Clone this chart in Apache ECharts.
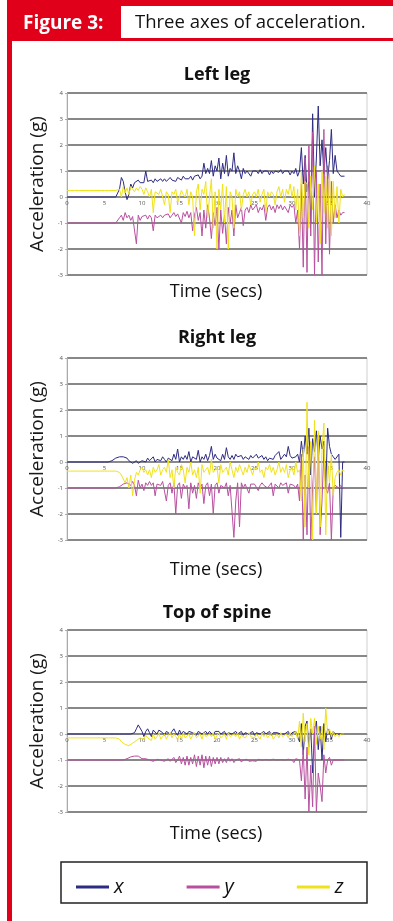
<!DOCTYPE html>
<html>
<head>
<meta charset="utf-8">
<script src="https://cdn.jsdelivr.net/npm/echarts@6/dist/echarts.min.js"></script>
<style>
  html, body { margin: 0; padding: 0; background: #fff; }
  #main { width: 393px; height: 921px; }
</style>
</head>
<body>
<div id="main"></div>
<script>
// time in seconds, one sample every 0.25 s from 0 to 37
var timeSecs = [];
for (var k = 0; k <= 148; k++) timeSecs.push(k / 4);

var chartTitles = ['Left leg', 'Right leg', 'Top of spine'];
var seriesNames = ['x', 'y', 'z'];
var yTicks = [-3, -2, -1, 0, 1, 2, 3, 4];
var xTicks = [0, 5, 10, 15, 20, 25, 30, 35, 40];

// Left leg
var leftX = [
  0,0,0,0, 0,0,0,0, 0,0,0,0, 0,0,0,0, 0,0,0,0,
  0,0,0,0, 0,0,0,0, 0.3,0.75,0.6,0.2, -0.1,0.1,0.5,0.35, 0.55,0.5,0.65,0.55,
  0.6,0.55,1.0,0.6, 0.6,0.65,0.55,0.7, 0.6,0.65,0.7,0.6, 0.7,0.6,0.65,0.75, 0.65,0.7,0.6,0.75,
  0.7,0.65,0.8,0.7, 0.75,0.7,0.8,0.65, 0.8,0.75,0.85,0.7, 0.8,1.3,0.9,1.1, 0.9,1.4,0.8,1.2,
  1.0,1.5,0.7,1.3, 0.9,1.6,0.8,1.1, 1.0,1.7,0.9,1.2, 1.0,0.7,1.1,0.9, 1.0,1.05,0.8,1.0,
  0.95,1.0,0.9,1.05, 0.9,1.0,0.95,1.0, 0.85,1.0,0.9,1.0, 1.0,0.95,1.05,0.9, 1.0,0.95,1.0,0.85,
  1.0,0.9,1.1,0.8, 1.0,1.9,0.5,1.6, 0.2,0.6,-1.0,3.2, 0.0,1.5,3.5,1.2, 2.2,0.9,1.9,0.7,
  1.4,2.6,0.9,1.6, 1.0,0.9,0.8,0.85, 0.8
];
var leftY = [
  -1,-1,-1,-1, -1,-1,-1,-1, -1,-1,-1,-1, -1,-1,-1,-1, -1,-1,-1,-1,
  -1,-1,-1,-1, -1,-1,-1,-1, -0.8,-0.7,-0.9,-0.6, -0.8,-0.7,-0.9,-0.75, -0.8,-1.8,-0.7,-0.9,
  -0.75,-0.8,-0.7,-0.85, -0.7,-0.8,-1.3,-0.7, -0.8,-0.75,-0.7,-0.8, -0.7,-0.75,-0.65,-0.8, -0.7,-0.6,-0.75,-0.65,
  -0.7,-1.0,-0.6,-0.75, -0.55,-0.8,-0.6,-1.3, -0.7,-0.4,-0.9,-0.6, -1.5,-0.5,-1.2,-0.3, -0.8,-1.6,-0.6,-1.1,
  -0.4,-2.0,-0.5,-1.4, -0.7,-1.8,-0.4,-1.0, -0.5,-1.5,-0.3,-0.8, -0.6,-0.4,-1.1,-0.5, -0.4,-0.6,-0.3,-0.5,
  -0.45,-0.3,-0.6,-0.4, -0.5,-0.3,-0.9,-0.4, -0.3,-0.5,-0.35,-0.6, -0.3,-0.45,-0.3,-0.5, -0.35,-0.3,-0.6,-0.3,
  -0.4,-0.3,-1.0,-0.5, -2.0,0.5,-2.7,1.5, -2.9,2.0,-1.5,2.5, -3.0,1.0,-2.5,0.5, -3.0,2.6,-1.8,1.2,
  -2.2,0.6,-1.0,-0.3, -0.8,-0.5,-0.7,-0.6, -0.6
];
var leftZ = [
  0.25,0.25,0.25,0.25, 0.25,0.25,0.25,0.25, 0.25,0.25,0.25,0.25, 0.25,0.25,0.25,0.25, 0.25,0.25,0.25,0.25,
  0.25,0.25,0.25,0.25, 0.25,0.25,0.25,0.25, 0.3,0.0,0.4,0.15, 0.35,0.1,0.4,0.3, 0.2,0.35,0.25,0.4,
  0.3,0.1,0.35,0.2, 0.0,0.3,-0.6,0.2, 0.25,0.1,0.3,0.0, -0.3,0.2,0.1,-0.6, 0.2,0.1,0.3,-0.2,
  0.0,0.25,0.1,0.0, 0.3,-0.3,0.2,0.0, -1.5,0.2,0.5,-0.5, 0.3,0.1,0.6,-0.8, 0.0,0.7,-1.2,0.2,
  -2.0,0.3,-0.5,0.5, -1.0,0.4,-2.0,0.2, 0.0,-1.2,0.3,0.0, 0.2,-0.5,0.1,0.3, 0.0,0.2,-0.3,0.1,
  0.2,0.0,0.3,-0.2, 0.1,0.3,-0.6,0.2, 0.0,0.2,0.1,-0.3, 0.2,0.4,0.0,0.3, -0.2,0.3,0.1,0.5,
  0.0,0.4,-0.5,0.3, -1.5,1.0,-0.8,0.6, 0.5,-1.2,0.8,-0.5, 1.2,-1.0,0.5,-1.8, 1.0,-0.6,0.8,-1.2,
  0.9,-1.5,0.6,-0.8, 0.4,-1.0,0.3,0.0, 0.1
];

// Right leg
var rightX = [
  0,0,0,0, 0,0,0,0, 0,0,0,0, 0,0,0,0, 0,0,0,0,
  0,0,0,0, 0.05,0.1,0.15,0.2, 0.2,0.25,0.2,0.2, 0.15,0.05,0.0,-0.05, 0.0,0.05,-0.05,0.0,
  0.05,0.1,0.0,0.15, 0.05,0.1,0.2,0.0, 0.1,0.15,0.05,0.2, 0.1,0.0,0.15,0.1, 0.05,0.3,0.1,0.5,
  0.0,0.2,0.1,0.25, 0.1,0.4,0.0,0.2, 0.2,0.1,0.45,0.0, 0.2,0.1,0.3,0.05, 0.25,0.6,0.1,0.3,
  0.15,0.2,0.05,0.3, 0.1,0.55,0.2,0.1, 0.25,0.1,0.3,0.2, 0.15,0.25,0.1,0.2, 0.2,0.1,0.25,0.15,
  0.1,0.3,0.15,0.2, 0.25,0.1,0.2,0.05, 0.15,0.2,0.1,0.25, 0.2,0.4,0.1,0.15, 0.3,0.2,0.6,0.25,
  0.15,0.1,0.2,0.3, 0.0,0.8,0.2,1.0, 0.3,1.3,-0.5,0.9, 0.4,1.2,0.1,1.0, 0.5,0.8,-1.0,1.3,
  0.6,0.3,0.2,0.1, 0.1,0.3,-2.9,0.0, 0.0
];
var rightY = [
  -1,-1,-1,-1, -1,-1,-1,-1, -1,-1,-1,-1, -1,-1,-1,-1, -1,-1,-1,-1,
  -1,-1,-1,-1, -1,-1,-1,-1, -0.95,-0.9,-0.85,-0.9, -0.8,-0.85,-0.9,-0.75, -0.9,-1.3,-0.7,-1.0,
  -0.85,-1.1,-0.8,-0.9, -0.75,-0.9,-0.8,-1.3, -0.85,-0.8,-0.9,-0.75, -0.8,-1.5,-0.9,-0.8, -1.2,-0.8,-2.0,-0.9,
  -0.8,-1.4,-0.85,-1.0, -0.9,-1.8,-0.8,-1.2, -0.9,-1.4,-0.8,-1.0, -0.85,-1.6,-0.9,-0.8, -1.3,-0.85,-2.0,-0.9,
  -0.8,-1.2,-0.9,-0.85, -1.0,-0.8,-1.3,-0.9, -0.85,-2.9,-1.5,-0.8, -2.5,-0.8,-1.0,-0.85, -0.8,-1.2,-0.85,-0.9,
  -0.85,-0.8,-1.1,-0.9, -0.8,-0.9,-0.85,-1.0, -0.9,-0.8,-1.3,-0.85, -0.85,-1.0,-0.8,-0.9, -0.9,-0.8,-1.2,-0.85,
  -0.8,-0.9,-1.0,-0.85, -1.5,0.3,-3.0,-0.5, -2.8,0.6,-3.0,-1.0, 0.2,-2.0,1.0,-2.8, -1.5,0.5,-1.0,-1.2,
  -0.8,-3.0,-1.0,-0.9, -0.95,-1.0,-0.9,-1.0, -1.0
];
var rightZ = [
  -0.35,-0.35,-0.35,-0.35, -0.35,-0.35,-0.35,-0.35, -0.35,-0.35,-0.35,-0.35, -0.35,-0.35,-0.35,-0.35, -0.35,-0.35,-0.35,-0.35,
  -0.35,-0.35,-0.35,-0.35, -0.35,-0.35,-0.35,-0.35, -0.4,-0.5,-0.45,-0.8, -0.6,-1.0,-0.5,-1.3, -0.7,-0.4,-0.5,-0.3,
  -0.2,-0.4,-0.3,-0.5, -0.3,-0.6,-0.2,-0.4, -0.3,-0.1,-0.5,-0.3, -0.2,-0.4,0.1,-0.6, -0.3,-1.0,-0.2,-0.4,
  -0.5,-0.1,-0.3,-0.8, -0.2,-0.4,0.0,-0.5, -0.3,-0.6,-0.2,-1.2, -0.1,-0.4,-0.3,-0.2, -0.5,0.1,-0.4,-0.3,
  -0.2,-0.8,-0.1,-0.4, -0.3,-0.2,-0.5,0.0, -0.3,-0.6,-0.2,-0.4, -0.1,-0.3,-0.5,-0.2, -0.4,-0.1,-0.3,-0.5,
  -0.2,-0.3,0.0,-0.4, -0.3,-0.6,-0.2,-0.3, -0.1,-0.4,-0.2,-0.5, -0.3,0.0,-0.4,-0.2, -0.4,-0.1,-0.6,-0.3,
  -0.2,-0.5,0.0,-0.4, -0.3,-1.5,0.5,-2.5, 2.3,-1.0,0.8,-3.0, 1.6,-2.0,1.2,-2.5, 0.5,1.5,-2.8,0.0,
  -0.8,0.3,-1.3,-0.6, -0.4,-0.3,-0.5,-0.3, -0.35
];

// Top of spine
var spineX = [
  0,0,0,0, 0,0,0,0, 0,0,0,0, 0,0,0,0, 0,0,0,0,
  0,0,0,0, 0,0,0,0, 0.0,0.05,0.0,0.05, 0.0,0.05,0.0,0.0, 0.05,0.2,0.35,0.3,
  0.1,-0.1,0.1,0.2, 0.05,-0.1,0.15,0.2, 0.0,0.15,0.2,0.05, -0.05,0.1,0.15,0.0, 0.1,0.2,0.05,-0.05,
  0.15,0.0,0.1,0.15, 0.0,0.1,0.15,0.05, 0.1,-0.05,0.1,0.15, 0.0,0.05,0.1,0.0, 0.1,0.05,-0.05,0.1,
  0.05,0.1,0.0,0.05, 0.1,-0.05,0.05,0.1, 0.0,0.05,0.1,0.0, 0.05,0.1,-0.05,0.05, 0.1,0.0,0.05,0.1,
  -0.05,0.05,0.1,0.0, 0.05,0.1,0.0,0.05, 0.1,-0.05,0.05,0.0, 0.05,0.1,0.0,0.05, 0.0,0.05,0.1,-0.05,
  0.05,0.0,0.1,0.05, -0.3,0.4,-0.8,0.3, 0.5,-0.5,0.2,-1.5, 0.1,0.5,-0.6,0.3, -1.0,0.4,-0.3,0.2,
  0.1,-0.2,0.1,0.0, 0.05,0.0,0.0,0.0, 0.0
];
var spineY = [
  -1,-1,-1,-1, -1,-1,-1,-1, -1,-1,-1,-1, -1,-1,-1,-1, -1,-1,-1,-1,
  -1,-1,-1,-1, -1,-1,-1,-1, -1.0,-0.98,-1.0,-0.97, -0.95,-0.9,-0.88,-0.9, -0.85,-0.82,-0.85,-0.9,
  -0.95,-1.0,-0.95,-1.0, -1.0,-0.95,-1.05,-1.0, -0.97,-1.03,-1.0,-0.95, -1.05,-1.0,-0.95,-1.05, -1.0,-0.9,-1.1,-1.0,
  -0.85,-1.15,-0.9,-1.2, -0.85,-1.2,-0.9,-1.15, -0.8,-1.25,-0.85,-1.2, -0.8,-1.3,-0.85,-1.2, -0.85,-1.25,-0.9,-1.15,
  -0.9,-1.15,-0.9,-1.1, -0.95,-1.1,-0.9,-1.05, -0.95,-1.1,-1.0,-1.05, -0.95,-1.08,-1.0,-1.05, -0.97,-1.05,-1.0,-1.03,
  -1.0,-1.05,-0.97,-1.03, -1.0,-1.05,-0.98,-1.02, -1.0,-1.05,-0.97,-1.03, -1.0,-1.04,-0.98,-1.0, -1.0,-1.05,-0.97,-1.03,
  -1.0,-1.1,-0.95,-1.0, -1.0,-1.8,-0.6,-2.5, -0.5,-3.0,-1.2,-2.8, 0.3,-3.0,-1.5,-2.0, -2.6,-0.8,-1.5,-1.0,
  -0.9,-1.2,-1.0,-0.95, -1.0,-1.0,-1.0,-1.0, -1.0
];
var spineZ = [
  -0.15,-0.15,-0.15,-0.15, -0.15,-0.15,-0.15,-0.15, -0.15,-0.15,-0.15,-0.15, -0.15,-0.15,-0.15,-0.15, -0.15,-0.15,-0.15,-0.15,
  -0.15,-0.15,-0.15,-0.15, -0.15,-0.15,-0.15,-0.15, -0.2,-0.3,-0.35,-0.4, -0.4,-0.45,-0.4,-0.35, -0.3,-0.25,-0.2,-0.15,
  -0.1,-0.2,-0.05,-0.15, -0.1,-0.25,0.0,-0.2, -0.1,0.05,-0.2,-0.1, 0.0,-0.2,-0.05,0.05, -0.15,0.0,-0.1,-0.2,
  0.0,-0.2,0.05,-0.15, -0.1,0.0,-0.2,-0.05, 0.05,-0.15,-0.1,0.0, -0.2,0.05,-0.1,-0.15, 0.0,-0.1,0.05,-0.2,
  -0.05,0.05,-0.15,-0.1, 0.0,-0.2,0.05,-0.1, -0.15,0.0,-0.1,0.05, -0.2,-0.05,0.0,-0.15, -0.1,0.05,-0.1,-0.05,
  -0.15,0.0,-0.1,-0.2, 0.05,-0.1,0.0,-0.15, -0.05,0.05,-0.2,-0.1, 0.0,-0.15,0.05,-0.1, -0.05,0.0,-0.15,0.05,
  -0.1,0.0,0.1,-0.2, 0.5,-0.5,0.8,-0.3, 0.4,-0.8,0.6,0.0, 0.6,-0.4,0.3,-0.2, 0.3,-0.6,1.0,0.0,
  0.2,-0.1,0.1,-0.1, 0.0,-0.1,0.0,-0.05, 0.0
];

var chartData = [
  [leftX, leftY, leftZ],
  [rightX, rightY, rightZ],
  [spineX, spineY, spineZ]
];
var lineColors = ['#2e2b82', '#b8509f', '#f0e21a'];

var red = '#e1001a';
var font = 'Open Sans';
var plotTops = [93, 358, 630];
var plotHeight = 182;
var titleY = [75, 338, 613];
var timeY = [292, 570, 834];

var grids = [], xAxes = [], yAxes = [], series = [];
var graphics = [
  { type: 'rect', shape: { x: 7, y: 0, width: 386, height: 41 }, style: { fill: red } },
  { type: 'rect', shape: { x: 121, y: 6, width: 272, height: 32 }, style: { fill: '#fff' } },
  { type: 'rect', shape: { x: 7, y: 41, width: 5, height: 880 }, style: { fill: red } },
  { type: 'text', x: 23, y: 24, style: { text: 'Figure 3:', fill: '#fff', font: 'bold 19px "' + font + '"', textVerticalAlign: 'middle' } },
  { type: 'text', x: 135, y: 23, style: { text: 'Three axes of acceleration.', fill: '#111', font: '18.5px "' + font + '"', textVerticalAlign: 'middle' } },
  { type: 'rect', shape: { x: 61, y: 862, width: 306, height: 41 }, style: { fill: '#fff', stroke: '#222', lineWidth: 1.5 } }
];

for (var i = 0; i < 3; i++) {
  grids.push({
    left: 67, width: 300, top: plotTops[i], height: plotHeight,
    show: true, borderColor: '#cfcfcf', borderWidth: 1, backgroundColor: '#fff'
  });
  // category labels sit just under the zero line, as in the source chart
  xAxes.push({
    type: 'value', gridIndex: i, min: xTicks[0], max: xTicks[xTicks.length - 1], interval: 5,
    position: 'bottom', offset: -plotHeight * 3 / 7,
    axisLine: { onZero: false, lineStyle: { color: '#8a8a8a' } },
    axisTick: { show: false },
    axisLabel: { fontSize: 6, color: '#555', margin: 3, fontFamily: font },
    splitLine: { show: false }
  });
  yAxes.push({
    type: 'value', gridIndex: i, min: yTicks[0], max: yTicks[yTicks.length - 1], interval: 1,
    name: 'Acceleration (g)', nameLocation: 'middle', nameGap: 16,
    nameTextStyle: { fontSize: 19, color: '#1a1a1a', fontFamily: font },
    axisLine: { show: true, lineStyle: { color: '#aaa' } },
    axisTick: { show: true, length: 2, lineStyle: { color: '#aaa' } },
    axisLabel: { fontSize: 6, color: '#555', margin: 4, fontFamily: font },
    splitLine: { show: true, lineStyle: { color: '#888', width: 2 } }
  });
  for (var s = 0; s < 3; s++) {
    var vals = chartData[i][s];
    series.push({
      type: 'line', name: seriesNames[s], xAxisIndex: i, yAxisIndex: i,
      data: timeSecs.map(function (tt, n) { return [tt, vals[n]]; }),
      showSymbol: false, symbol: 'none', color: lineColors[s],
      lineStyle: { width: 1, color: lineColors[s] }
    });
  }
  graphics.push({ type: 'text', x: 217, y: titleY[i], style: { text: chartTitles[i], fill: '#111', font: 'bold 18px "' + font + '"', textAlign: 'center', textVerticalAlign: 'middle' } });
  graphics.push({ type: 'text', x: 216, y: timeY[i], style: { text: 'Time (secs)', fill: '#111', font: '18px "' + font + '"', textAlign: 'center', textVerticalAlign: 'middle' } });
}

var myChart = echarts.init(document.getElementById('main'));
myChart.setOption({
  animation: false,
  textStyle: { fontFamily: font },
  graphic: { elements: graphics },
  grid: grids,
  xAxis: xAxes,
  yAxis: yAxes,
  legend: {
    data: seriesNames, left: 71, top: 872, z: 10,
    icon: 'rect', itemWidth: 33, itemHeight: 3, itemGap: 63,
    textStyle: { fontSize: 20, fontStyle: 'italic', color: '#111', fontFamily: font }
  },
  series: series
});
</script>
</body>
</html>
